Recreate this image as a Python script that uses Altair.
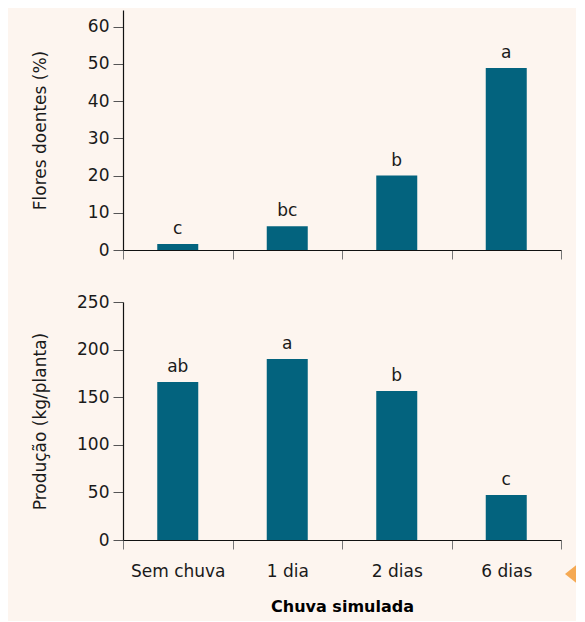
import altair as alt
import pandas as pd

categories = ["Sem chuva", "1 dia", "2 dias", "6 dias"]
flores = [1.6, 6.4, 20.0, 48.9]
flores_letters = ["c", "bc", "b", "a"]
producao = [166, 190, 156.5, 47.3]
producao_letters = ["ab", "a", "b", "c"]
flores_ticks = [0, 10, 20, 30, 40, 50, 60]
producao_ticks = [0, 50, 100, 150, 200, 250]

FONT = "DejaVu Sans"
BAR = "#03637E"
BG = "#FDF5EF"

df = pd.DataFrame({
    "cat": categories,
    "flores": flores,
    "fl": flores_letters,
    "prod": producao,
    "pl": producao_letters,
})

xscale = alt.Scale(paddingInner=0, paddingOuter=0)

def x_enc(show_labels):
    if show_labels:
        ax = alt.Axis(title="Chuva simulada", labels=True, labelAngle=0,
                      tickBand="extent", tickSize=9, tickColor="#777",
                      labelPadding=14, labelFontSize=17, labelColor="#1a1a1a",
                      titleFontSize=16, titleFontWeight="bold", titleColor="#000",
                      titlePadding=19, domainColor="#111", domainWidth=1.2)
    else:
        ax = alt.Axis(title=None, labels=False, tickBand="extent", tickSize=9,
                      tickColor="#777", domainColor="#111", domainWidth=1.2)
    return alt.X("cat:N", sort=categories, scale=xscale, axis=ax)

def y_axis(title, values, title_pad):
    return alt.Axis(title=title, values=values, tickSize=10, tickColor="#555",
                    labelPadding=4, labelFontSize=17, labelColor="#1a1a1a",
                    labelOverlap=False,
                    titleFontSize=17, titleFontWeight="normal", titleColor="#1a1a1a",
                    titlePadding=title_pad, domainColor="#111", domainWidth=1.2,
                    grid=False)

base = alt.Chart(df)

x_top = x_enc(False)
y_top = alt.Y("flores:Q", scale=alt.Scale(domain=[0, 64.5], nice=False),
              axis=y_axis("Flores doentes (%)", flores_ticks, 38))
top_bars = base.mark_bar(size=41, color=BAR).encode(x=x_top, y=y_top)
top_text = base.mark_text(baseline="bottom", dy=-6, fontSize=17, font=FONT, color="#1a1a1a").encode(
    x=x_top, y=y_top, text="fl:N",
)
top = alt.layer(top_bars, top_text).properties(width=438, height=240)

x_bot = x_enc(True)
y_bot = alt.Y("prod:Q", scale=alt.Scale(domain=[0, 250], nice=False),
              axis=y_axis("Produção (kg/planta)", producao_ticks, 27))
bot_bars = base.mark_bar(size=41, color=BAR).encode(x=x_bot, y=y_bot)
bot_text = base.mark_text(baseline="bottom", dy=-6, fontSize=17, font=FONT, color="#1a1a1a").encode(
    x=x_bot, y=y_bot, text="pl:N",
)
marker = alt.Chart(pd.DataFrame({"m": [0]})).mark_point(
    shape="M-1,0L1,-1.6L1,1.6Z", filled=True, size=121, color="#F5A953", opacity=1,
    strokeWidth=0
).encode(x=alt.value(447.5), y=alt.value(272))

bottom = alt.layer(bot_bars, bot_text, marker).properties(width=438, height=238)

chart = alt.vconcat(top, bottom, spacing=33).properties(
    background=BG,
    padding={"left": 23, "top": 2, "right": 0, "bottom": 7},
).configure_view(stroke=None).configure_axis(
    labelFont=FONT, titleFont=FONT
).configure_text(font=FONT)

chart.save("out.html", embed_options={"renderer": "svg", "actions": False})
